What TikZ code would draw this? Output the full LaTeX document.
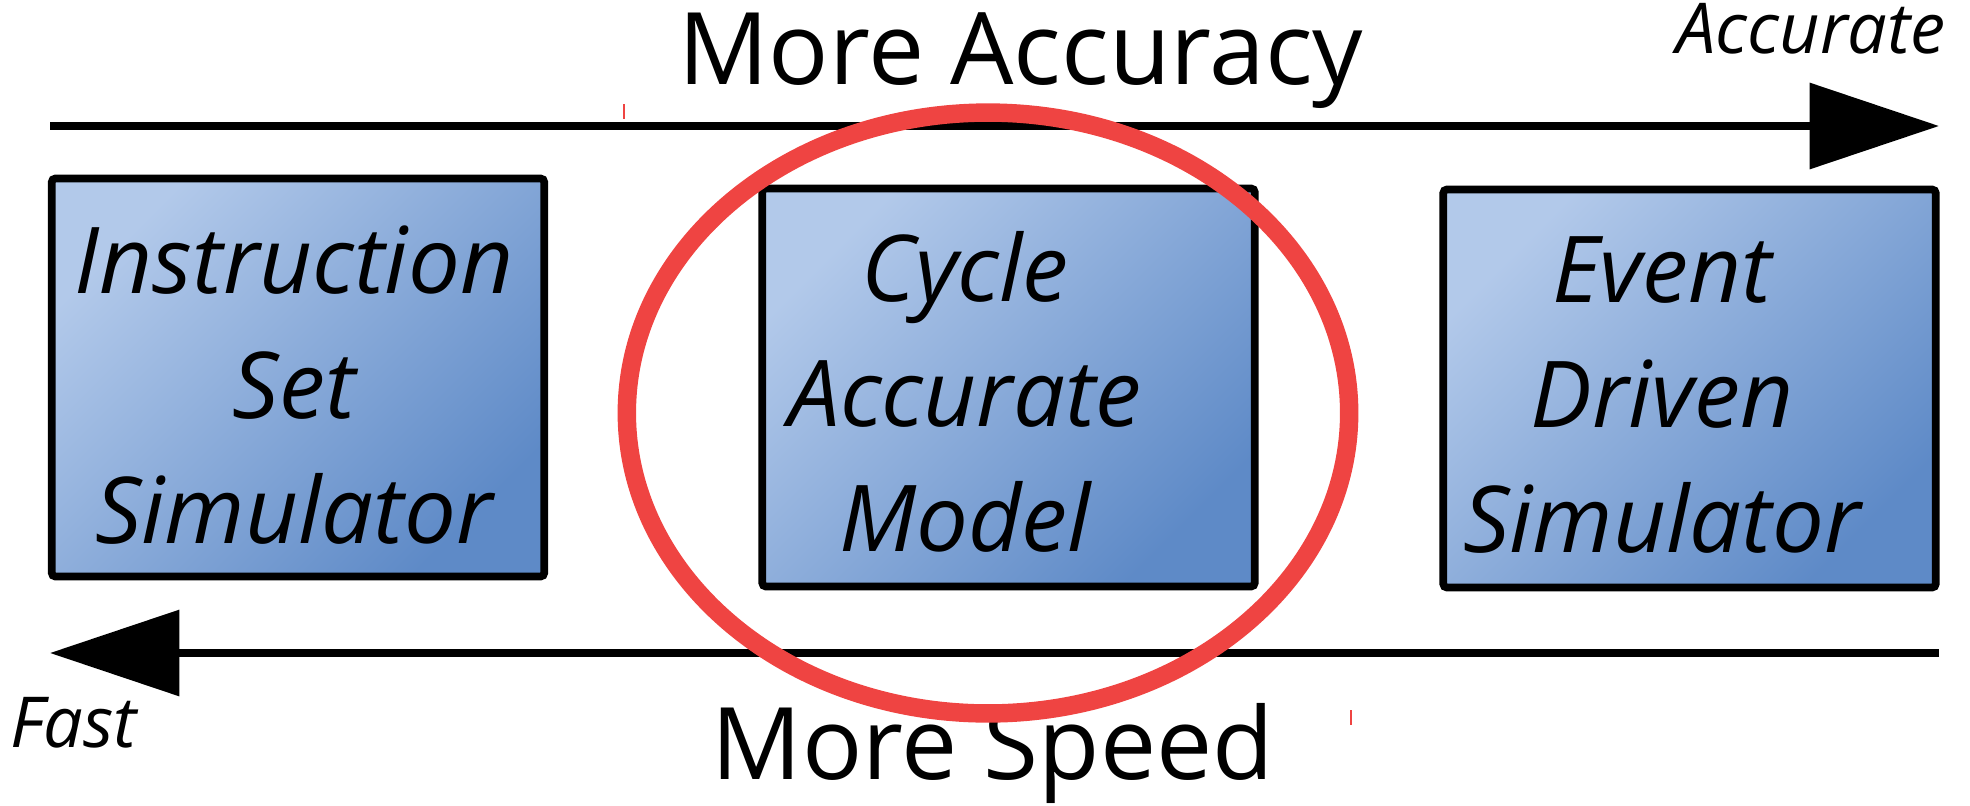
\documentclass[tikz,border=0pt]{standalone}
\usepackage{fontspec}
\setmainfont{Open Sans}
\usetikzlibrary{arrows.meta,shapes.geometric}
\definecolor{boxlight}{RGB}{178,201,234}
\definecolor{boxdark}{RGB}{94,138,199}
\definecolor{ringred}{RGB}{239,68,66}
\begin{document}
\begin{tikzpicture}[x=0.02cm,y=-0.02cm,
  simbox/.style={draw=black, line width=4.4pt, rounded corners=2pt,
    top color=boxlight, bottom color=boxdark, shading angle=45,
    minimum width=9.85cm, minimum height=7.96cm, inner sep=0pt},
  boxtext/.style={align=center, inner sep=0pt,
    font=\fontsize{52.5}{71}\selectfont\itshape},
  bigtext/.style={inner sep=0pt, font=\fontsize{57}{68}\selectfont},
  smalltext/.style={inner sep=0pt, font=\fontsize{40}{48}\selectfont\itshape},
  axisline/.style={line width=4.5pt, -{Triangle[length=73.7pt,width=48.2pt]}},
  ring/.style={ellipse, draw=ringred, line width=10.5pt, inner sep=0pt,
    minimum width=14.45cm, minimum height=12.02cm},
  tick/.style={ringred, line width=0.8pt}
]
\useasboundingbox (0,0) rectangle (1970,805);

% the three simulator boxes
\node[simbox] (iss) at (298,377.5) {};
\node[simbox] (cam) at (1008.5,387.5) {};
\node[simbox] (eds) at (1689.5,388.5) {};

\node[boxtext] (isstext) at (294,385) {Instruction\\Set\\Simulator};
\node[boxtext] (camtext) at (965,392) {Cycle\\Accurate\\Model};
\node[boxtext] (edstext) at (1662,395) {Event\\Driven\\Simulator};

% accuracy axis (left to right) and speed axis (right to left)
\coordinate (accstart) at (50,126);
\coordinate (accend) at (1939,126);
\coordinate (spdstart) at (1939,653);
\coordinate (spdend) at (50,653);
\draw[axisline] (accstart) -- (accend);
\draw[axisline] (spdstart) -- (spdend);

\node[bigtext, anchor=base] (moreacc) at (1021,84) {More Accuracy};
\node[smalltext, anchor=base east] (acclabel) at (1946,53) {Accurate};
\node[smalltext, anchor=base west] (fastlabel) at (10,747) {Fast};
\node[bigtext, anchor=base] (morespd) at (993,779) {More Speed};

% highlight ring around the cycle accurate model
\node[ring] (focus) at (988,413) {};

% small red marks
\draw[tick] (624,104) -- (624,119);
\draw[tick] (1351,710) -- (1351,725);
\end{tikzpicture}
\end{document}
